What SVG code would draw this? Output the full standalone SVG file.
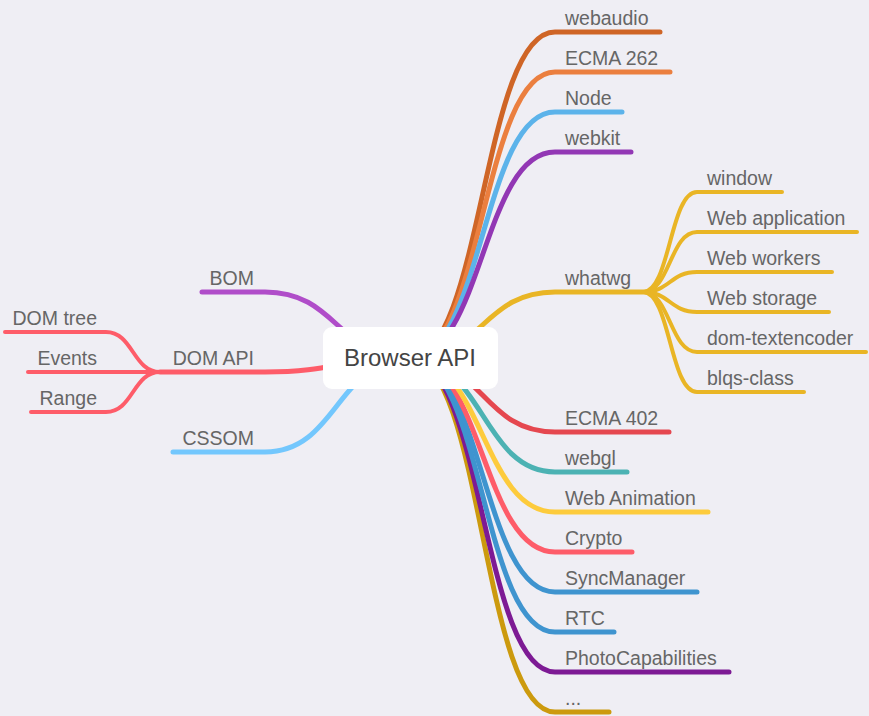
<svg xmlns="http://www.w3.org/2000/svg" width="869" height="716" viewBox="0 0 869 716">
<style>
.l{fill:none;stroke-width:5;stroke-linecap:round;stroke-linejoin:round}
.c{fill:none;stroke-width:4;stroke-linecap:round}
text{font-family:"Liberation Sans",Arial,sans-serif;font-size:19.5px;fill:#666}
.e{text-anchor:end}
.root{font-size:24px;fill:#444;text-anchor:middle}
</style>
<rect width="869" height="716" fill="#efeef4"/>
<g id="connectors">
<path class="l" stroke="#cf6526" d="M410 358C482.5 358 482.5 32 555 32H660"/>
<path class="l" stroke="#eb7f3f" d="M410 358C482.5 358 482.5 72 555 72H670"/>
<path class="l" stroke="#5cb3ea" d="M410 358C482.5 358 482.5 112 555 112H622"/>
<path class="l" stroke="#9237b4" d="M410 358C482.5 358 482.5 152 555 152H631"/>
<path class="l" stroke="#e9b525" d="M410 358C482.5 358 482.5 292 555 292H643"/>
<path class="c" stroke="#e9b525" d="M643 292C670 292 670 192 697 192H782"/>
<path class="c" stroke="#e9b525" d="M643 292C670 292 670 232 697 232H857"/>
<path class="c" stroke="#e9b525" d="M643 292C670 292 670 272 697 272H832"/>
<path class="c" stroke="#e9b525" d="M643 292C670 292 670 312 697 312H829"/>
<path class="c" stroke="#e9b525" d="M643 292C670 292 670 352 697 352H866"/>
<path class="c" stroke="#e9b525" d="M643 292C670 292 670 392 697 392H804"/>
<path class="l" stroke="#cc9a0e" d="M410 358C482.5 358 482.5 712 555 712H609"/>
<path class="l" stroke="#7d1a94" d="M410 358C482.5 358 482.5 672 555 672H729"/>
<path class="l" stroke="#3f94cf" d="M410 358C482.5 358 482.5 632 555 632H614"/>
<path class="l" stroke="#3f94cf" d="M410 358C482.5 358 482.5 592 555 592H697"/>
<path class="l" stroke="#fe5c69" d="M410 358C482.5 358 482.5 552 555 552H632"/>
<path class="l" stroke="#fdcb3c" d="M410 358C482.5 358 482.5 512 555 512H708"/>
<path class="l" stroke="#4cb2b3" d="M410 358C482.5 358 482.5 472 555 472H627"/>
<path class="l" stroke="#e5474f" d="M410 358C482.5 358 482.5 432 555 432H669"/>
<path class="l" stroke="#b04dc9" d="M410 358C337.5 358 337.5 292 265 292H202"/>
<path class="l" stroke="#fe5c69" d="M410 358C337.5 358 337.5 372 265 372H160"/>
<path class="l" stroke="#73c7fd" d="M410 358C337.5 358 337.5 452 265 452H173"/>
<path class="c" stroke="#fe5c69" d="M160 372C133 372 133 332 106 332H5"/>
<path class="c" stroke="#fe5c69" d="M160 372H28"/>
<path class="c" stroke="#fe5c69" d="M160 372C133 372 133 412 106 412H31"/>
</g>
<g id="root"><rect x="323" y="327" width="175" height="62" rx="9" fill="#fff"/><text class="root" x="410" y="366">Browser API</text></g>
<g id="webaudio"><text x="565" y="25">webaudio</text></g>
<g id="ecma262"><text x="565" y="65">ECMA 262</text></g>
<g id="node"><text x="565" y="105">Node</text></g>
<g id="webkit"><text x="565" y="145">webkit</text></g>
<g id="whatwg"><text x="565" y="285">whatwg</text></g>
<g id="window"><text x="707" y="185">window</text></g>
<g id="webapplication"><text x="707" y="225">Web application</text></g>
<g id="webworkers"><text x="707" y="265">Web workers</text></g>
<g id="webstorage"><text x="707" y="305">Web storage</text></g>
<g id="domtextencoder"><text x="707" y="345">dom-textencoder</text></g>
<g id="blqsclass"><text x="707" y="385">blqs-class</text></g>
<g id="ecma402"><text x="565" y="425">ECMA 402</text></g>
<g id="webgl"><text x="565" y="465">webgl</text></g>
<g id="webanimation"><text x="565" y="505">Web Animation</text></g>
<g id="crypto"><text x="565" y="545">Crypto</text></g>
<g id="syncmanager"><text x="565" y="585">SyncManager</text></g>
<g id="rtc"><text x="565" y="625">RTC</text></g>
<g id="photocapabilities"><text x="565" y="665">PhotoCapabilities</text></g>
<g id="more"><text x="565" y="705">...</text></g>
<g id="bom"><text class="e" x="254" y="285">BOM</text></g>
<g id="domapi"><text class="e" x="254" y="365">DOM API</text></g>
<g id="cssom"><text class="e" x="254" y="445">CSSOM</text></g>
<g id="domtree"><text class="e" x="97" y="325">DOM tree</text></g>
<g id="events"><text class="e" x="97" y="365">Events</text></g>
<g id="range"><text class="e" x="97" y="405">Range</text></g>
</svg>
